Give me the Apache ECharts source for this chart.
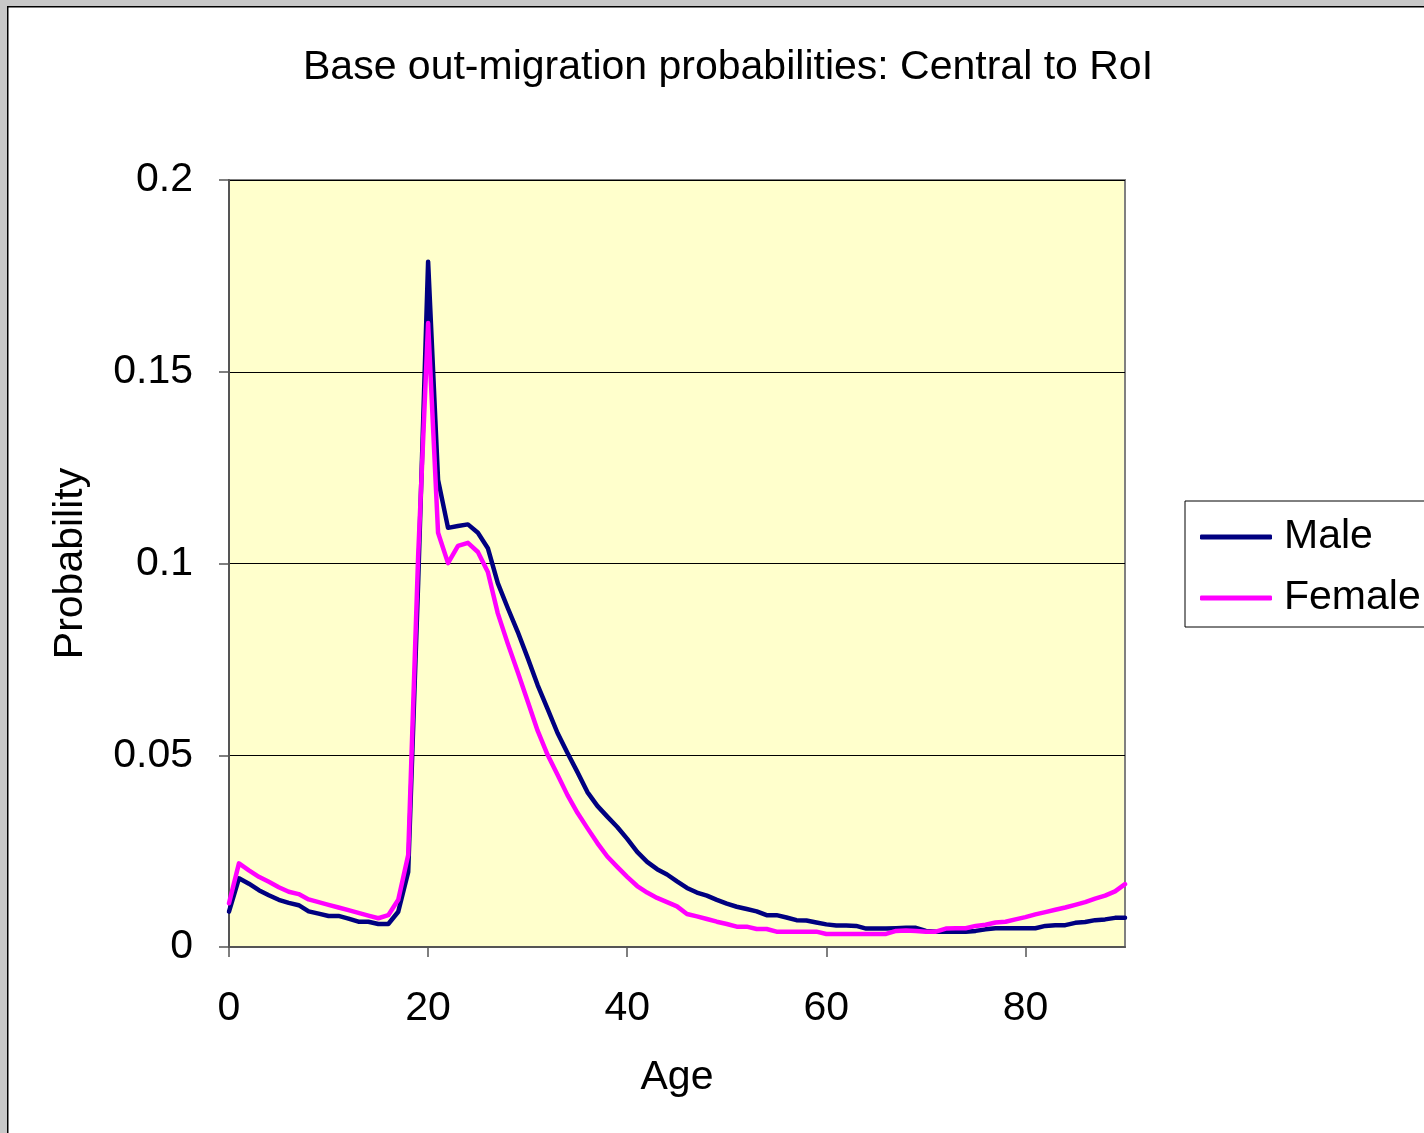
<html>
<head>
    <meta charset="utf-8">
    <title>Base out-migration probabilities</title>
    <script src="https://cdn.jsdelivr.net/npm/echarts@6.0.0/dist/echarts.min.js"></script>
    <style>
        body { margin: 0; padding: 0; background: #fff; }
        #chartmain { width: 1424px; height: 1133px; }
    </style>
</head>
<body>
<div id="chartmain"></div>
<script type="text/javascript">
    // ages 0..90
    var ages = [0, 1, 2, 3, 4, 5, 6, 7, 8, 9, 10, 11, 12, 13, 14, 15, 16, 17, 18, 19,
        20, 21, 22, 23, 24, 25, 26, 27, 28, 29, 30, 31, 32, 33, 34, 35, 36, 37, 38, 39,
        40, 41, 42, 43, 44, 45, 46, 47, 48, 49, 50, 51, 52, 53, 54, 55, 56, 57, 58, 59,
        60, 61, 62, 63, 64, 65, 66, 67, 68, 69, 70, 71, 72, 73, 74, 75, 76, 77, 78, 79,
        80, 81, 82, 83, 84, 85, 86, 87, 88, 89, 90];

    var male = [0.0092, 0.0179, 0.0165, 0.0148, 0.0135, 0.0123, 0.0115, 0.0109, 0.0093, 0.0087,
        0.0081, 0.0081, 0.0074, 0.0066, 0.0066, 0.0060, 0.0060, 0.0092, 0.0196, 0.095,
        0.1787, 0.1218, 0.1093, 0.1098, 0.1102, 0.1080, 0.1040, 0.0949, 0.0884, 0.0822,
        0.0754, 0.0683, 0.0621, 0.0558, 0.0506, 0.0456, 0.0404, 0.0368, 0.0340, 0.0313,
        0.0282, 0.0248, 0.0222, 0.0203, 0.0189, 0.0171, 0.0154, 0.0142, 0.0134, 0.0123,
        0.0113, 0.0105, 0.0099, 0.0093, 0.0083, 0.0083, 0.0077, 0.0070, 0.0069, 0.0064,
        0.0059, 0.0056, 0.0056, 0.0055, 0.0048, 0.0048, 0.0048, 0.0049, 0.0050, 0.0050,
        0.0042, 0.0040, 0.0040, 0.0040, 0.0040, 0.0042, 0.0046, 0.0049, 0.0049, 0.0049,
        0.0049, 0.0049, 0.0055, 0.0057, 0.0057, 0.0063, 0.0065, 0.0070, 0.0072, 0.0076,
        0.0076];

    var female = [0.0114, 0.0218, 0.0200, 0.0183, 0.0170, 0.0156, 0.0144, 0.0138, 0.0124, 0.0117,
        0.0110, 0.0103, 0.0096, 0.0089, 0.0082, 0.0075, 0.0083, 0.0123, 0.0240, 0.102,
        0.1627, 0.1080, 0.1001, 0.1046, 0.1054, 0.1030, 0.0978, 0.0870, 0.0791, 0.0717,
        0.0641, 0.0564, 0.0501, 0.0449, 0.0396, 0.0350, 0.0310, 0.0271, 0.0236, 0.0209,
        0.0183, 0.0159, 0.0142, 0.0128, 0.0117, 0.0106, 0.0086, 0.0080, 0.0073, 0.0066,
        0.0060, 0.0053, 0.0053, 0.0047, 0.0047, 0.0040, 0.0040, 0.0040, 0.0040, 0.0040,
        0.0034, 0.0034, 0.0034, 0.0034, 0.0034, 0.0034, 0.0034, 0.0042, 0.0043, 0.0042,
        0.0040, 0.0040, 0.0048, 0.0049, 0.0049, 0.0055, 0.0058, 0.0064, 0.0066, 0.0072,
        0.0078, 0.0085, 0.0091, 0.0097, 0.0103, 0.0110, 0.0117, 0.0126, 0.0134, 0.0145,
        0.0164];

    var font = '"Liberation Sans", Arial, sans-serif';
    var everyTwenty = function (i) { return i % 20 === 0; };

    var myChart = echarts.init(document.getElementById('chartmain'));
    myChart.setOption({
        backgroundColor: '#ffffff',
        animation: false,
        textStyle: { fontFamily: font, color: '#000' },
        title: {
            text: 'Base out-migration probabilities: Central to RoI',
            left: 303,
            top: 47,
            padding: 0,
            textStyle: { fontFamily: font, fontSize: 41, fontWeight: 'normal', color: '#000' }
        },
        // frame of the sheet: grey margin and black edge
        graphic: [
            { type: 'rect', shape: { x: 0, y: 0, width: 1424, height: 6 }, style: { fill: '#c8c8c8' }, silent: true },
            { type: 'rect', shape: { x: 0, y: 0, width: 7, height: 1133 }, style: { fill: '#c8c8c8' }, silent: true },
            { type: 'rect', shape: { x: 7, y: 6, width: 1417, height: 1.5 }, style: { fill: '#000' }, silent: true },
            { type: 'rect', shape: { x: 7, y: 6, width: 1.5, height: 1127 }, style: { fill: '#000' }, silent: true }
        ],
        legend: {
            orient: 'vertical',
            left: 1185,
            top: 501,
            padding: [12, 60, 5, 15],
            itemGap: 13,
            itemWidth: 72,
            itemHeight: 5,
            icon: 'roundRect',
            borderColor: '#000',
            borderWidth: 1,
            backgroundColor: '#fff',
            textStyle: { fontFamily: font, fontSize: 41, color: '#000', lineHeight: 48, padding: [0, 0, 0, 7] },
            data: ['Male', 'Female']
        },
        grid: {
            left: 229,
            right: 299,
            top: 180,
            bottom: 186,
            show: true,
            backgroundColor: '#ffffcc',
            borderColor: '#808080',
            borderWidth: 2
        },
        xAxis: {
            type: 'category',
            data: ages,
            boundaryGap: false,
            name: 'Age',
            nameLocation: 'middle',
            nameGap: 110,
            nameTextStyle: { fontFamily: font, fontSize: 41, color: '#000' },
            axisLine: { lineStyle: { color: '#555', width: 2 } },
            axisTick: { show: true, inside: false, length: 10, interval: everyTwenty, lineStyle: { color: '#555', width: 1.5 } },
            axisLabel: { interval: everyTwenty, margin: 41, fontFamily: font, fontSize: 41, color: '#000' },
            splitLine: { show: false }
        },
        yAxis: {
            type: 'value',
            min: 0,
            max: 0.2,
            interval: 0.05,
            name: 'Probability',
            nameLocation: 'middle',
            nameGap: 138,
            nameTextStyle: { fontFamily: font, fontSize: 41, color: '#000' },
            axisLine: { show: true, lineStyle: { color: '#555', width: 2 } },
            axisTick: { show: true, inside: false, length: 10, lineStyle: { color: '#555', width: 1.5 } },
            axisLabel: { margin: 36, fontFamily: font, fontSize: 41, color: '#000' },
            splitLine: { show: true, lineStyle: { color: '#000', width: 1 } }
        },
        series: [{
            name: 'Male',
            type: 'line',
            symbol: 'none',
            itemStyle: { color: '#000080' },
            lineStyle: { color: '#000080', width: 4.5, cap: 'round', join: 'round' },
            data: male
        }, {
            name: 'Female',
            type: 'line',
            symbol: 'none',
            itemStyle: { color: '#ff00ff' },
            lineStyle: { color: '#ff00ff', width: 4.5, cap: 'round', join: 'round' },
            data: female
        }]
    });
</script>
</body>
</html>
